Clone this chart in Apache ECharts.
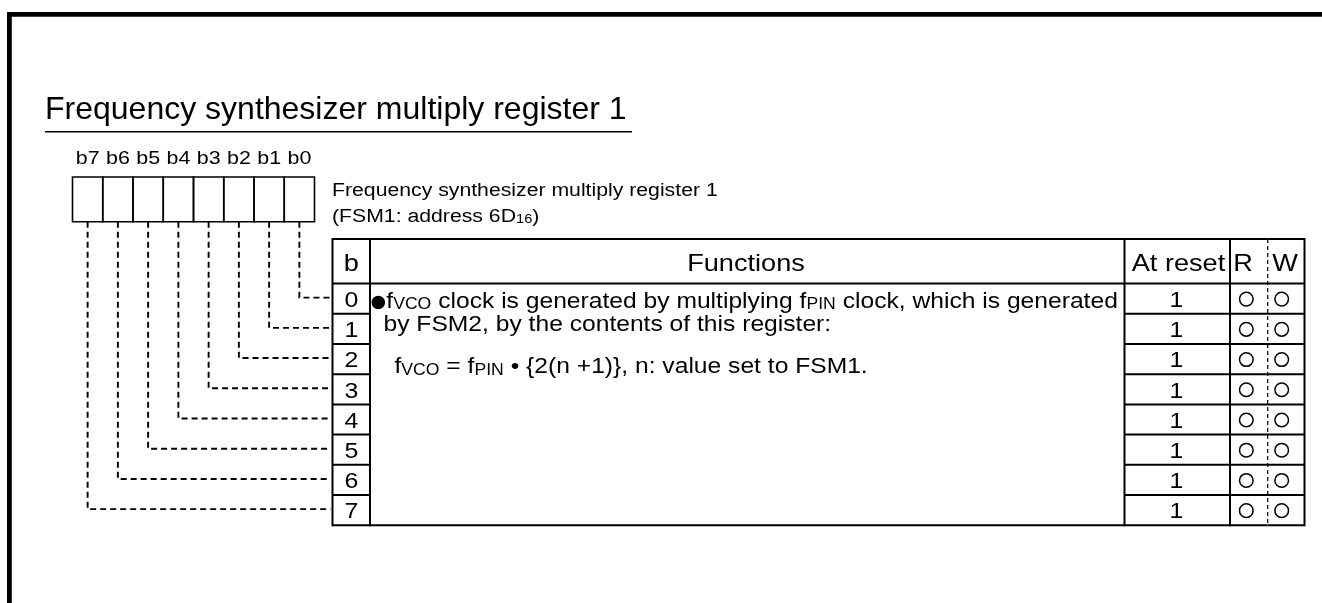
<!DOCTYPE html>
<html><head><meta charset="utf-8">
<script src="https://cdn.jsdelivr.net/npm/echarts@6/dist/echarts.min.js"></script>
<style>html,body{margin:0;padding:0;background:#fff}#c{width:1322px;height:603px}</style>
</head><body><div id="c"></div>
<script>
// ---------------- data ----------------
const titleText = 'Frequency synthesizer multiply register 1';
const registerName = 'Frequency synthesizer multiply register 1';
const registerAddress = '(FSM1: address 6D{sub|16})';
const bitLabels = ['b7', 'b6', 'b5', 'b4', 'b3', 'b2', 'b1', 'b0'];
const bitNumbers = [0, 1, 2, 3, 4, 5, 6, 7];
const resetValues = ['1', '1', '1', '1', '1', '1', '1', '1'];
const readFlags = [1, 1, 1, 1, 1, 1, 1, 1];
const writeFlags = [1, 1, 1, 1, 1, 1, 1, 1];
const headerLabels = ['b', 'Functions', 'At reset', 'R', 'W'];
const functionLines = [
  '●f{sc|VCO} clock is generated by multiplying f{sc|PIN} clock, which is generated',
  'by FSM2, by the contents of this register:',
  'f{sc|VCO} = f{sc|PIN} • {2(n +1)}, n: value set to FSM1.'
];

// ---------------- layout (positions / sizes / styles) ----------------
const FONT = '"Liberation Sans", Arial, Helvetica, sans-serif';
const MID = 0.3465; // distance baseline -> middle, in em
const L = {
  sx: 1.13,
  frame: { x: 7, y: 12, t: 4.8 },
  title: { x: 45, base: 121.7, size: 32, ulY: 131.7, ulX1: 632, ulW: 1.6 },
  sub: { x: 332, bases: [197, 223], size: 18.8, small: 13 },
  reg: { x0: 72.5, y0: 177, y1: 221.7, cw: 30.25, labelBase: 165, labelSize: 19, lw: 1.6 },
  conn: { xEnd: 330.5, dy: -1, lw: 1.9, dash: [6, 4] },
  tbl: { top: 239, hdrBottom: 283.5, rowH: 30.22, cols: [332.5, 370, 1124.5, 1230, 1267.7, 1304.5], lw: 2 },
  hdr: { base: 272.5, size: 24, cx: [351.3, 746, 1178.5, 1243, 1285] },
  row: { size: 22, baseOff: 25, bx: 351.3, resetX: 1176.5, rX: 1246.3, wX: 1281.7, r: 6.8, clw: 1.5 },
  fn: { size: 21.8, small: 15.6, xs: [371.5, 383.5, 394.5], bases: [309.5, 333, 375],
        bulletR: 6.8, bulletDy: -7, bulletGap: 1.2 }
};
const tblBottom = L.tbl.hdrBottom + L.tbl.rowH * bitNumbers.length;
const rowTop = n => L.tbl.hdrBottom + L.tbl.rowH * n;

function smallStyle(s, S) {
  return { fontSize: s, fontFamily: FONT, fill: '#000', verticalAlign: 'bottom',
           lineHeight: 2 * (MID * s + (0.5 - MID) * S) };
}
function txt(api, x, base, text, size, opts) {
  opts = opts || {};
  const p = api.coord([x, base - MID * size]);
  return {
    type: 'text', x: p[0], y: p[1], scaleX: opts.sx == null ? L.sx : opts.sx,
    style: {
      text: text, fontSize: size, fontFamily: FONT, fill: '#000',
      align: opts.align || 'left', verticalAlign: 'middle', lineHeight: size,
      rich: opts.rich
    }
  };
}
function line(api, x1, y1, x2, y2, lw, dash) {
  const a = api.coord([x1, y1]), b = api.coord([x2, y2]);
  return { type: 'line', shape: { x1: a[0], y1: a[1], x2: b[0], y2: b[1] },
           style: { stroke: '#000', lineWidth: lw, lineDash: dash || null } };
}

const chart = echarts.init(document.getElementById('c'));
chart.setOption({
  animation: false,
  backgroundColor: '#fff',
  grid: { left: 0, right: 0, top: 0, bottom: 0 },
  xAxis: { type: 'value', min: 0, max: 1322, show: false },
  yAxis: { type: 'value', min: 0, max: 603, inverse: true, show: false },
  series: [
    { // frame + title
      type: 'custom', name: 'title', clip: false, silent: true,
      data: [[0, 0]],
      renderItem: function (params, api) {
        const f = L.frame;
        const tl = api.coord([f.x, f.y]), br = api.coord([1322, 603]);
        return { type: 'group', children: [
          { type: 'rect', shape: { x: tl[0], y: tl[1], width: br[0] - tl[0], height: f.t }, style: { fill: '#000' } },
          { type: 'rect', shape: { x: tl[0], y: tl[1], width: f.t, height: br[1] - tl[1] }, style: { fill: '#000' } },
          txt(api, L.title.x, L.title.base, titleText, L.title.size, { sx: 1 }),
          line(api, L.title.x, L.title.ulY, L.title.ulX1, L.title.ulY, L.title.ulW)
        ] };
      }
    },
    { // register name and address
      type: 'custom', name: 'subtitle', clip: false, silent: true,
      data: [[0, 0], [1, 0]],
      renderItem: function (params, api) {
        const i = params.dataIndex;
        const t = i === 0 ? registerName : registerAddress;
        return txt(api, L.sub.x, L.sub.bases[i], t, L.sub.size,
          { rich: { sub: smallStyle(L.sub.small, L.sub.size) } });
      }
    },
    { // bit boxes, bit labels and dashed connectors
      type: 'custom', name: 'bits', clip: false, silent: true,
      data: bitLabels.map((_, k) => [k, 0]),
      renderItem: function (params, api) {
        const k = params.dataIndex;
        const r = L.reg;
        const x = r.x0 + r.cw * k, cx = x + r.cw / 2;
        const a = api.coord([x, r.y0]), b = api.coord([x + r.cw, r.y1]);
        const bit = 7 - k;
        const yRow = rowTop(bitNumbers.indexOf(bit)) + L.tbl.rowH / 2 + L.conn.dy;
        const p1 = api.coord([cx, r.y1]), p2 = api.coord([cx, yRow]), p3 = api.coord([L.conn.xEnd, yRow]);
        return { type: 'group', children: [
          { type: 'rect', shape: { x: a[0], y: a[1], width: b[0] - a[0], height: b[1] - a[1] },
            style: { fill: 'transparent', stroke: '#000', lineWidth: r.lw } },
          txt(api, cx, r.labelBase, bitLabels[k], r.labelSize, { align: 'center' }),
          { type: 'polyline', shape: { points: [p1, p2, p3] },
            style: { fill: null, stroke: '#000', lineWidth: L.conn.lw, lineDash: L.conn.dash } }
        ] };
      }
    },
    { // table header and grid
      type: 'custom', name: 'header', clip: false, silent: true,
      data: headerLabels.map((_, i) => [i, 0]),
      renderItem: function (params, api) {
        const i = params.dataIndex;
        const c = L.tbl.cols, lw = L.tbl.lw;
        const ch = [
          line(api, c[i], L.tbl.top, c[i + 1], L.tbl.top, lw),
          line(api, c[i], L.tbl.hdrBottom, c[i + 1], L.tbl.hdrBottom, lw),
          line(api, c[i], tblBottom, c[i + 1], tblBottom, lw),
          txt(api, L.hdr.cx[i], L.hdr.base, headerLabels[i], L.hdr.size, { align: 'center' })
        ];
        if (i === 0) ch.push(line(api, c[0], L.tbl.top - lw / 2, c[0], tblBottom + lw / 2, lw));
        if (i === 3) ch.push(line(api, c[4], L.tbl.top, c[4], tblBottom, 1.2, [4, 3]));
        else ch.push(line(api, c[i + 1], L.tbl.top - lw / 2, c[i + 1], tblBottom + lw / 2, lw));
        return { type: 'group', children: ch };
      }
    },
    { // bit rows
      type: 'custom', name: 'rows', clip: false, silent: true,
      data: bitNumbers.map(n => [n, 0]),
      renderItem: function (params, api) {
        const n = bitNumbers[params.dataIndex];
        const c = L.tbl.cols, lw = L.tbl.lw, R = L.row;
        const top = rowTop(params.dataIndex), bot = top + L.tbl.rowH, mid = (top + bot) / 2;
        const ch = [
          txt(api, R.bx, top + R.baseOff, String(n), R.size, { align: 'center' }),
          txt(api, R.resetX, top + R.baseOff, resetValues[params.dataIndex], R.size, { align: 'center' })
        ];
        if (params.dataIndex < bitNumbers.length - 1) {
          ch.push(line(api, c[0], bot, c[1], bot, lw));
          ch.push(line(api, c[2], bot, c[5], bot, lw));
        }
        const flags = [[readFlags, R.rX], [writeFlags, R.wX]];
        flags.forEach(function (f) {
          if (f[0][params.dataIndex]) {
            const p = api.coord([f[1], mid + 0.5]);
            ch.push({ type: 'circle', shape: { cx: p[0], cy: p[1], r: R.r },
                      style: { fill: 'transparent', stroke: '#000', lineWidth: R.clw } });
          }
        });
        return { type: 'group', children: ch };
      }
    },
    { // functions text (a leading ● is drawn as a filled disc)
      type: 'custom', name: 'functions', clip: false, silent: true,
      data: functionLines.map((_, i) => [i, 0]),
      renderItem: function (params, api) {
        const i = params.dataIndex, F = L.fn;
        let t = functionLines[i], x = F.xs[i];
        const ch = [];
        if (t.charAt(0) === '●') {
          t = t.slice(1);
          const p = api.coord([x + F.bulletR, F.bases[i] + F.bulletDy]);
          ch.push({ type: 'circle', shape: { cx: p[0], cy: p[1], r: F.bulletR }, style: { fill: '#000' } });
          x += 2 * F.bulletR + F.bulletGap;
        }
        ch.push(txt(api, x, F.bases[i], t, F.size, { rich: { sc: smallStyle(F.small, F.size) } }));
        return { type: 'group', children: ch };
      }
    }
  ]
});
</script>
</body></html>
